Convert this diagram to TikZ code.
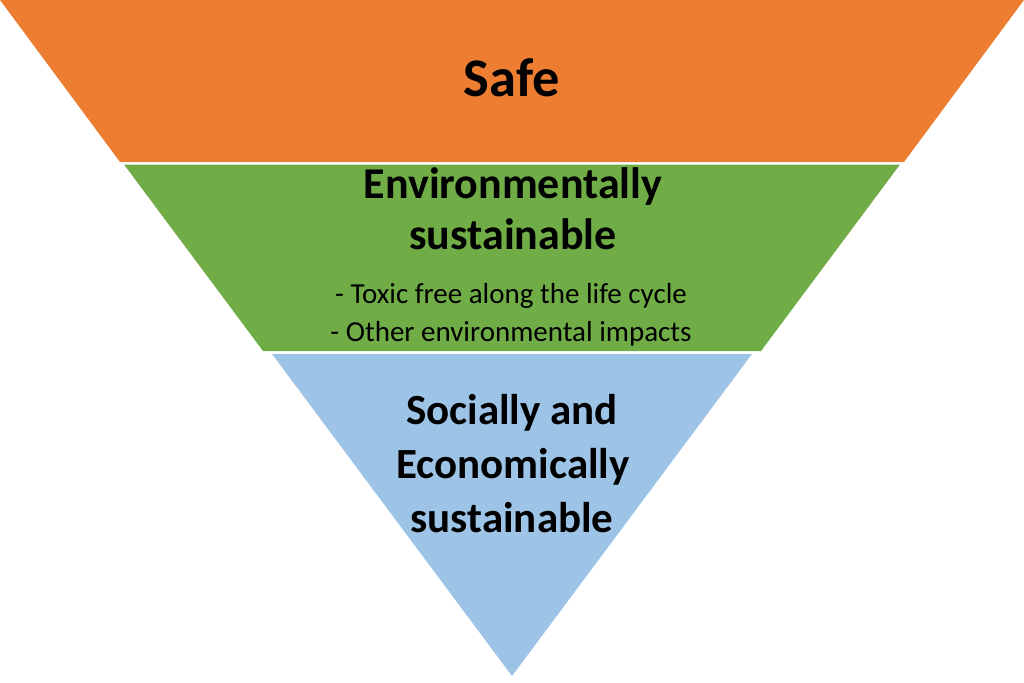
\documentclass[tikz,border=0pt]{standalone}
\usepackage{fontspec}
\setmainfont{Carlito}
\definecolor{safeorange}{HTML}{ED7D31}
\definecolor{envgreen}{HTML}{70AD47}
\definecolor{socblue}{HTML}{9DC3E6}

\begin{document}
\begin{tikzpicture}[x=1pt, y=-1pt, line join=round,
	title/.style={anchor=base, font=\bfseries\fontsize{43}{50}\selectfont},
	item/.style={anchor=base, font=\fontsize{29}{34}\selectfont}]

\useasboundingbox (0,0) rectangle (1024,682);

% ===== Top: safe =====
\fill[safeorange] (0,0) -- (1024,0) -- (904,162) -- (120,162) -- cycle;
\node[title, font=\bfseries\fontsize{54.5}{64}\selectfont] (safe) at (512,97) {Safe};

% ===== Middle: environmentally sustainable =====
\fill[envgreen] (124,164.5) -- (900,164.5) -- (761,351) -- (263,351) -- cycle;
\node[title, font=\bfseries\fontsize{44}{50}\selectfont] (env1) at (513,198) {Environmentally};
\node[title, font=\bfseries\fontsize{44}{50}\selectfont] (env2) at (513,249) {sustainable};
\node[item] (tox) at (511,303) {- Toxic free along the life cycle};
\node[item] (imp) at (511,341) {- Other environmental impacts};

% ===== Bottom: socially and economically sustainable =====
\fill[socblue] (272,354) -- (752,354) -- (512,676) -- cycle;
\node[title] (soc1) at (512,424) {Socially and};
\node[title] (soc2) at (513,478) {Economically};
\node[title] (soc3) at (512,532) {sustainable};

\end{tikzpicture}
\end{document}
